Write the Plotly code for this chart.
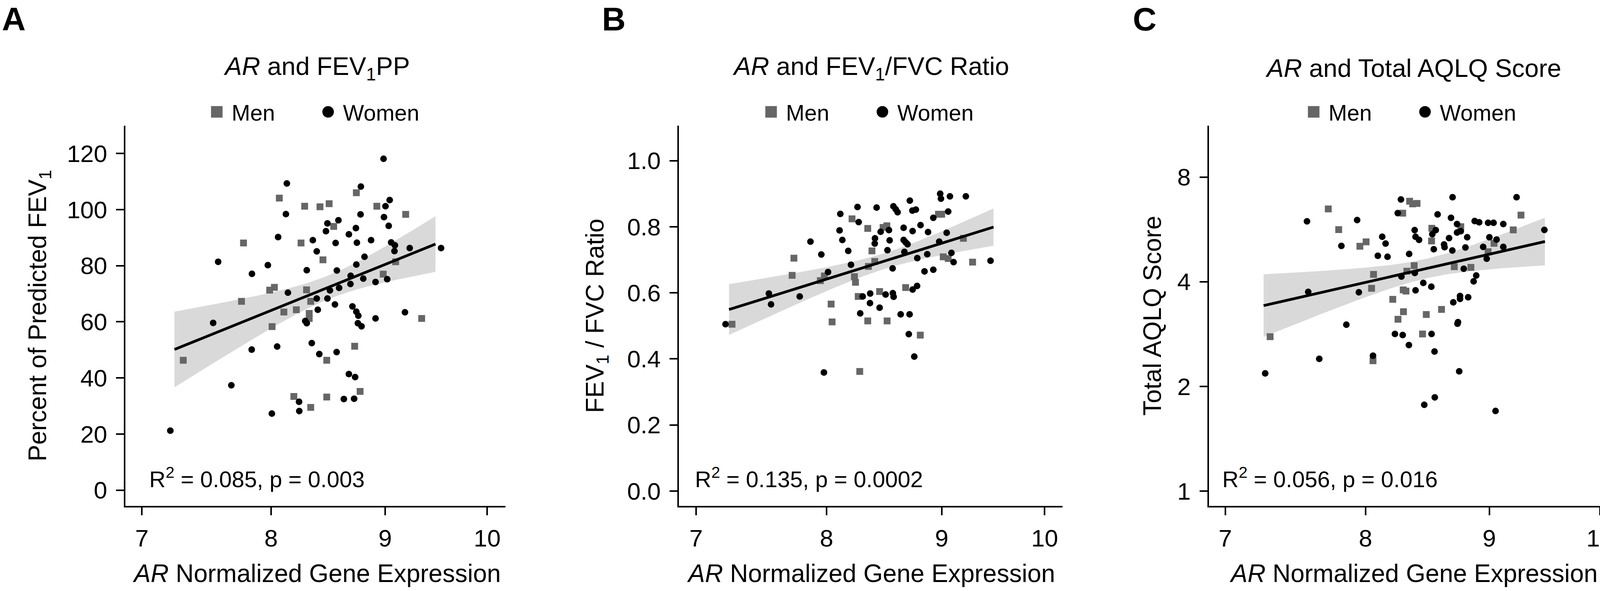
import numpy as np
import plotly.graph_objects as go

W, H = 4140, 1514
FONT = "Liberation Sans, Arial, Helvetica, sans-serif"

# ---------------- data ----------------
x_ticks = [7, 8, 9, 10]
x_tick_text = ["7", "8", "9", "10"]

# Panel A : AR expression vs FEV1 percent predicted
a_men_x = [8.068, 8.736, 8.282, 8.414, 8.494, 8.923, 9.193, 8.534, 7.775, 8.251,
           8.440, 9.098, 8.982, 8.027, 7.988, 8.298, 7.759, 8.334, 8.211, 8.106,
           8.321, 8.321, 9.346, 8.008, 8.721, 7.306, 8.473, 8.770, 8.190, 8.473, 8.334]
a_men_y = [104.1, 106.0, 101.2, 101.0, 102.1, 101.2, 98.3, 94.0, 88.1, 88.1,
           82.1, 81.4, 77.0, 72.3, 71.3, 71.4, 67.3, 67.3, 64.3, 63.5,
           63.0, 61.2, 61.2, 58.3, 51.3, 46.3, 46.3, 35.2, 33.4, 33.2, 29.5]
a_women_x = [8.985, 8.131, 8.777, 9.042, 9.003, 8.123, 8.774, 8.989, 8.576, 8.479,
             9.033, 8.732, 8.466, 8.669, 8.058, 8.352, 8.870, 8.551, 8.741, 9.056,
             9.091, 9.231, 9.535, 8.386, 9.087, 8.810, 7.574, 7.973, 8.736, 8.300,
             8.562, 7.843, 8.685, 8.799, 9.019, 8.911, 8.683, 8.582, 8.501, 8.140,
             8.386, 8.479, 8.545, 8.701, 8.395, 8.736, 8.754, 9.186, 8.911, 7.535,
             8.287, 8.300, 8.750, 8.783, 8.343, 8.050, 7.841, 8.408, 8.560, 7.678,
             8.669, 8.725, 8.234, 8.624, 8.716, 8.236, 8.006, 7.209]
a_women_y = [118.1, 109.3, 108.2, 103.4, 101.2, 98.4, 98.3, 97.3, 96.2, 95.1,
             94.2, 93.4, 92.3, 91.2, 90.2, 89.1, 89.1, 88.1, 88.2, 88.3,
             87.3, 86.3, 86.3, 85.1, 85.2, 83.2, 81.4, 80.2, 80.4, 78.4,
             78.3, 77.1, 76.4, 75.4, 75.2, 74.2, 73.5, 72.1, 71.2, 70.4,
             68.3, 68.3, 66.2, 65.5, 64.3, 63.6, 62.2, 63.4, 61.2, 59.6,
             60.3, 59.5, 59.5, 58.4, 52.4, 51.2, 50.1, 48.5, 49.2, 37.4,
             41.4, 40.3, 31.5, 32.5, 32.6, 28.2, 27.3, 21.2]
a_fit_range = [7.24, 9.48]
a_y_ticks = [0, 20, 40, 60, 80, 100, 120]
a_stats = "R<sup>2</sup> = 0.085, p = 0.003"

# Panel B : AR expression vs FEV1/FVC ratio
b_men_x = [8.211, 8.344, 8.476, 8.509, 8.970, 9.000, 8.380, 9.202, 7.737, 8.404,
           8.350, 9.014, 9.060, 9.289, 7.723, 7.982, 7.949, 8.231, 8.240, 8.263,
           8.037, 8.446, 8.674, 7.262, 8.045, 8.344, 8.511, 8.805, 8.276]
b_men_y = [0.824, 0.795, 0.798, 0.803, 0.838, 0.838, 0.727, 0.765, 0.705, 0.695,
           0.680, 0.709, 0.704, 0.693, 0.653, 0.651, 0.637, 0.649, 0.632, 0.589,
           0.566, 0.604, 0.616, 0.505, 0.512, 0.515, 0.515, 0.472, 0.362]
b_women_x = [8.986, 8.993, 9.076, 9.225, 8.711, 8.257, 8.420, 8.566, 8.586, 8.603,
             8.734, 8.765, 9.060, 8.113, 8.267, 8.923, 8.807, 8.656, 8.455, 8.527,
             8.736, 8.875, 9.046, 8.107, 8.406, 7.869, 8.130, 8.533, 8.656, 8.674,
             8.691, 8.404, 8.977, 8.179, 8.514, 8.663, 9.090, 7.957, 8.868, 8.778,
             9.110, 9.461, 8.202, 8.559, 8.923, 8.843, 8.012, 8.776, 8.736, 7.541,
             8.365, 8.561, 8.498, 7.783, 8.301, 8.568, 7.558, 8.363, 8.446, 8.280,
             8.630, 8.709, 7.214, 8.702, 8.751, 7.978]
b_women_y = [0.900, 0.885, 0.892, 0.892, 0.879, 0.860, 0.858, 0.862, 0.853, 0.844,
             0.849, 0.852, 0.846, 0.839, 0.814, 0.827, 0.805, 0.797, 0.785, 0.790,
             0.787, 0.784, 0.782, 0.789, 0.765, 0.755, 0.760, 0.759, 0.760, 0.753,
             0.747, 0.749, 0.755, 0.727, 0.729, 0.724, 0.721, 0.716, 0.717, 0.705,
             0.693, 0.697, 0.685, 0.674, 0.670, 0.665, 0.663, 0.621, 0.610, 0.598,
             0.598, 0.599, 0.595, 0.589, 0.589, 0.588, 0.565, 0.569, 0.555, 0.538,
             0.535, 0.535, 0.505, 0.475, 0.407, 0.359]
b_fit_range = [7.24, 9.49]
b_y_ticks = [0.0, 0.2, 0.4, 0.6, 0.8, 1.0]
b_stats = "R<sup>2</sup> = 0.135, p = 0.0002"

# Panel C : AR expression vs total AQLQ score (log axis)
c_men_x = [7.721, 8.343, 8.367, 8.402, 8.288, 9.276, 7.798, 9.208, 8.521, 8.759,
           7.957, 8.004, 8.519, 9.041, 8.990, 8.379, 8.705, 8.844, 8.321, 8.061,
           8.046, 8.292, 8.314, 8.210, 8.600, 8.294, 8.476, 8.251, 8.446, 7.305, 8.057]
c_men_y = [6.48, 6.82, 6.70, 6.72, 6.30, 6.22, 5.65, 5.64, 5.70, 5.76,
           5.06, 5.21, 5.24, 5.16, 4.88, 4.45, 4.42, 4.40, 4.29, 4.20,
           3.83, 3.79, 3.76, 3.56, 3.33, 3.28, 3.22, 3.12, 2.83, 2.78, 2.37]
c_women_x = [8.691, 9.237, 8.274, 8.249, 8.568, 7.566, 7.936, 8.678, 8.876, 8.914,
             8.990, 9.037, 9.121, 8.728, 9.485, 8.383, 8.553, 8.728, 8.759, 8.525,
             8.390, 8.128, 8.418, 8.662, 8.813, 9.001, 9.063, 8.154, 7.818, 8.621,
             8.625, 9.121, 8.948, 8.798, 8.537, 8.689, 8.339, 8.094, 8.169, 8.978,
             8.784, 8.384, 8.889, 8.278, 8.867, 8.452, 8.517, 8.390, 7.575, 7.949,
             8.821, 8.753, 8.753, 8.697, 7.855, 8.736, 8.732, 8.227, 8.288, 8.519,
             8.337, 8.543, 7.655, 8.057, 7.271, 8.746, 8.545, 8.460, 9.054]
c_women_y = [7.00, 7.00, 6.90, 6.30, 6.25, 5.97, 6.02, 6.11, 5.98, 5.93,
             5.91, 5.91, 5.86, 5.86, 5.64, 5.63, 5.63, 5.54, 5.59, 5.48,
             5.39, 5.39, 5.28, 5.34, 5.37, 5.37, 5.29, 5.15, 5.07, 5.12,
             5.03, 5.04, 5.04, 5.02, 4.96, 4.92, 4.81, 4.75, 4.72, 4.66,
             4.36, 4.24, 4.17, 4.14, 4.01, 3.97, 3.87, 3.78, 3.74, 3.73,
             3.61, 3.64, 3.57, 3.49, 3.01, 3.06, 3.03, 2.83, 2.81, 2.83,
             2.63, 2.52, 2.40, 2.45, 2.18, 2.21, 1.86, 1.77, 1.70]
c_fit_range = [7.26, 9.49]
c_y_ticks = [1, 2, 4, 8]
c_stats = "R<sup>2</sup> = 0.056, p = 0.016"

T95 = 1.985  # two-sided 95% t quantile, ~97 df


def lm_band(xs, ys, xr, log_y=False, n_grid=60):
    """Linear fit of y on log10(x) (geom_smooth(method='lm') on a log x scale) with 95% CI."""
    lx = np.log10(np.asarray(xs, float))
    ly = np.asarray(ys, float)
    if log_y:
        ly = np.log10(ly)
    n = lx.size
    slope, icpt = np.polyfit(lx, ly, 1)
    resid = ly - (icpt + slope * lx)
    s = np.sqrt((resid ** 2).sum() / (n - 2))
    xm = lx.mean()
    sxx = ((lx - xm) ** 2).sum()
    g = np.linspace(np.log10(xr[0]), np.log10(xr[1]), n_grid)
    fit = icpt + slope * g
    se = s * np.sqrt(1.0 / n + (g - xm) ** 2 / sxx)
    lo, hi = fit - T95 * se, fit + T95 * se
    if log_y:
        fit, lo, hi = 10 ** fit, 10 ** lo, 10 ** hi
    return 10 ** g, fit, lo, hi


def px(p):
    return p / W


def py(p):
    return 1 - p / H


PLOT_TOP, PLOT_BOTTOM = 322, 1296

panels = [
    dict(sfx="", men=(a_men_x, a_men_y), women=(a_women_x, a_women_y), fr=a_fit_range,
         logy=False, leg="legend", left=321, right=1293.5, xr=[0.83772, 1.00812],
         yr=[-5.6, 129.9], yt=a_y_ticks, ytt=[str(v) for v in a_y_ticks],
         title="<i>AR</i> and FEV<sub>1</sub>PP",
         ytitle="Percent of Predicted FEV<sub>1</sub>", ytx=100, stats=a_stats, sx=380,
         letter="A", lx=3, cx=810),
    dict(sfx="2", men=(b_men_x, b_men_y), women=(b_women_x, b_women_y), fr=b_fit_range,
         logy=False, leg="legend2", left=1738, right=2719.7, xr=[0.83746, 1.00787],
         yr=[-0.045, 1.106], yt=b_y_ticks, ytt=["%.1f" % v for v in b_y_ticks],
         title="<i>AR</i> and FEV<sub>1</sub>/FVC Ratio",
         ytitle="FEV<sub>1</sub> / FVC Ratio", ytx=1527, stats=b_stats, sx=1777,
         letter="B", lx=1539, cx=2229),
    dict(sfx="3", men=(c_men_x, c_men_y), women=(c_women_x, c_women_y), fr=c_fit_range,
         logy=True, leg="legend3", left=3094.7, right=W, xr=[0.8383, 1.00714],
         yr=[-0.0428, 1.0510], yt=c_y_ticks, ytt=[str(v) for v in c_y_ticks],
         title="<i>AR</i> and Total AQLQ Score",
         ytitle="Total AQLQ Score", ytx=2950, stats=c_stats, sx=3127,
         letter="C", lx=2898, cx=3618),
]

fig = go.Figure()
annotations = []
layout = dict(width=W, height=H, autosize=False, margin=dict(l=0, r=0, t=0, b=0),
              paper_bgcolor="white", plot_bgcolor="white",
              font=dict(family=FONT, color="black", size=62), showlegend=True)

axis_common = dict(showline=True, linecolor="black", linewidth=4, ticks="outside",
                   ticklen=20, tickwidth=4, tickcolor="black", showgrid=False,
                   zeroline=False, tickfont=dict(family=FONT, size=62, color="black"))

LEG_SHIFT = 8  # legend box is slightly wider on the right than its visible content

for p in panels:
    xa, ya = "x" + p["sfx"], "y" + p["sfx"]
    gx, fit, lo, hi = lm_band(p["men"][0] + p["women"][0], p["men"][1] + p["women"][1],
                              p["fr"], log_y=p["logy"])
    fig.add_trace(go.Scatter(x=np.concatenate([gx, gx[::-1]]),
                             y=np.concatenate([hi, lo[::-1]]),
                             fill="toself", fillcolor="#d9d9d9", mode="lines",
                             line=dict(width=0, color="#d9d9d9"), hoverinfo="skip",
                             showlegend=False, xaxis=xa, yaxis=ya))
    fig.add_trace(go.Scatter(x=p["men"][0], y=p["men"][1], mode="markers", name="Men",
                             marker=dict(symbol="square", size=17.5, color="#666666"),
                             legend=p["leg"], xaxis=xa, yaxis=ya))
    fig.add_trace(go.Scatter(x=p["women"][0], y=p["women"][1], mode="markers", name="Women",
                             marker=dict(symbol="circle", size=17, color="black"),
                             legend=p["leg"], xaxis=xa, yaxis=ya))
    fig.add_trace(go.Scatter(x=gx, y=fit, mode="lines", line=dict(color="black", width=7),
                             hoverinfo="skip", showlegend=False, xaxis=xa, yaxis=ya))

    layout["xaxis" + p["sfx"]] = dict(axis_common, type="log", range=p["xr"],
                                      domain=[px(p["left"]), px(p["right"])],
                                      anchor=ya, tickvals=x_ticks, ticktext=x_tick_text,
                                      ticklabelstandoff=6)
    layout["yaxis" + p["sfx"]] = dict(axis_common, type="log" if p["logy"] else "linear",
                                      range=p["yr"], domain=[py(PLOT_BOTTOM), py(PLOT_TOP)],
                                      anchor=xa, tickvals=p["yt"], ticktext=p["ytt"],
                                      ticklabelstandoff=10)
    layout[p["leg"]] = dict(x=px(p["cx"] - LEG_SHIFT), y=py(287), xanchor="center",
                            yanchor="middle", orientation="h",
                            font=dict(family=FONT, size=57, color="black"),
                            bgcolor="rgba(0,0,0,0)", itemwidth=66, entrywidth=204,
                            entrywidthmode="pixels", traceorder="normal",
                            itemclick=False, itemdoubleclick=False)

    annotations += [
        dict(text="<b>%s</b>" % p["letter"], x=px(p["lx"]), y=py(49), xanchor="left",
             yanchor="middle", font=dict(family=FONT, size=84, color="black")),
        dict(text=p["title"], x=px(p["cx"]), y=py(174), xanchor="center", yanchor="middle",
             font=dict(family=FONT, size=65, color="black")),
        dict(text="<i>AR</i> Normalized Gene Expression", x=px(p["cx"]), y=py(1469),
             xanchor="center", yanchor="middle", font=dict(family=FONT, size=64, color="black")),
        dict(text=p["ytitle"], x=px(p["ytx"]), y=py(809), textangle=-90, xanchor="center",
             yanchor="middle", font=dict(family=FONT, size=64, color="black")),
        dict(text=p["stats"], x=px(p["sx"]), y=py(1223), xanchor="left", yanchor="middle",
             font=dict(family=FONT, size=58, color="black")),
    ]

for a in annotations:
    a.update(xref="paper", yref="paper", showarrow=False)
layout["annotations"] = annotations
fig.update_layout(**layout)

# page without the browser's default 8px body margin; larger legend symbols
post = """
document.body.style.margin = '0';
document.documentElement.style.overflow = 'hidden';
var gd = document.getElementById('{plot_id}');
function bump(){
  gd.querySelectorAll('.legendpoints path.scatterpts').forEach(function(p){
    var t = p.getAttribute('transform') || '';
    if (t.indexOf('scale') < 0) { p.setAttribute('transform', t + ' scale(1.85)'); }
  });
}
bump();
gd.on('plotly_afterplot', bump);
"""
fig.write_html("out.html", post_script=post, config={"displayModeBar": False})
